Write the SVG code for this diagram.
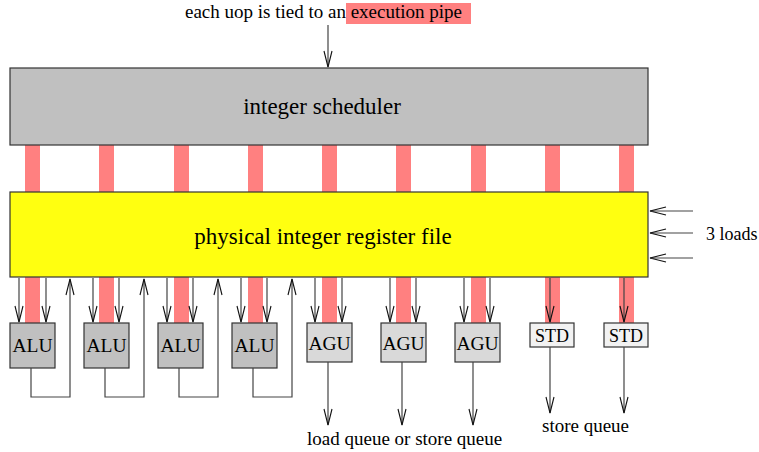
<svg xmlns="http://www.w3.org/2000/svg" width="759" height="452" viewBox="0 0 759 452">
<style>
.t{font-family:"Liberation Serif","Times New Roman",serif;fill:#000}
.pipe{fill:#ff8080}
.box{stroke:#333;stroke-width:1.2}
.c{fill:none;stroke:#444;stroke-width:1.2}
</style>
<defs>
<marker id="a" markerUnits="userSpaceOnUse" markerWidth="20" markerHeight="12" refX="0" refY="0" viewBox="-17 -6 18 12" orient="auto" overflow="visible">
<path d="M-16,-4 L0,0 L-16,4" fill="none" stroke="#111" stroke-width="1.1"/>
</marker>
</defs>
<rect width="759" height="452" fill="#fff"/>
<g id="title">
<rect x="346" y="3" width="125" height="21" fill="#ff8080"/>
<text class="t" x="185" y="18" font-size="19">each uop is tied to an execution pipe</text>
</g>
<g id="pipes">
<rect class="pipe" x="25" y="145" width="15" height="178"/>
<rect class="pipe" x="99" y="145" width="15" height="178"/>
<rect class="pipe" x="174" y="145" width="15" height="178"/>
<rect class="pipe" x="248" y="145" width="15" height="178"/>
<rect class="pipe" x="322" y="145" width="15" height="178"/>
<rect class="pipe" x="396" y="145" width="15" height="178"/>
<rect class="pipe" x="471" y="145" width="15" height="178"/>
<rect class="pipe" x="545" y="145" width="15" height="178"/>
<rect class="pipe" x="619" y="145" width="15" height="178"/>
</g>
<g id="scheduler">
<rect class="box" x="10" y="68" width="638" height="77" fill="#c0c0c0"/>
<text class="t" x="322" y="114" font-size="23" text-anchor="middle">integer scheduler</text>
</g>
<g id="regfile">
<rect class="box" x="10" y="192" width="638" height="85" fill="#ffff10"/>
<text class="t" x="323" y="244" font-size="23" text-anchor="middle">physical integer register file</text>
</g>
<g id="alu1"><rect class="box" x="10" y="323" width="45" height="45" fill="#c0c0c0"/><text class="t" x="32.5" y="352" font-size="19.5" text-anchor="middle">ALU</text></g>
<g id="alu2"><rect class="box" x="84" y="323" width="45" height="45" fill="#c0c0c0"/><text class="t" x="106.5" y="352" font-size="19.5" text-anchor="middle">ALU</text></g>
<g id="alu3"><rect class="box" x="158" y="323" width="45" height="45" fill="#c0c0c0"/><text class="t" x="180.5" y="352" font-size="19.5" text-anchor="middle">ALU</text></g>
<g id="alu4"><rect class="box" x="232" y="323" width="45" height="45" fill="#c0c0c0"/><text class="t" x="254.5" y="352" font-size="19.5" text-anchor="middle">ALU</text></g>
<g id="agu1"><rect class="box" x="307" y="323" width="45" height="39" fill="#d9d9d9"/><text class="t" x="329.5" y="350" font-size="19.5" text-anchor="middle">AGU</text></g>
<g id="agu2"><rect class="box" x="381" y="323" width="45" height="39" fill="#d9d9d9"/><text class="t" x="403.5" y="350" font-size="19.5" text-anchor="middle">AGU</text></g>
<g id="agu3"><rect class="box" x="455" y="323" width="45" height="39" fill="#d9d9d9"/><text class="t" x="477.5" y="350" font-size="19.5" text-anchor="middle">AGU</text></g>
<g id="std1"><rect class="box" x="530" y="323" width="44" height="24" fill="#f2f2f2"/><text class="t" x="552" y="342" font-size="18" text-anchor="middle">STD</text></g>
<g id="std2"><rect class="box" x="604" y="323" width="44" height="24" fill="#f2f2f2"/><text class="t" x="626" y="342" font-size="18" text-anchor="middle">STD</text></g>
<g id="connectors">
<path class="c" d="M328,25 V67" marker-end="url(#a)"/>
<path class="c" d="M693,211 H650" marker-end="url(#a)"/>
<path class="c" d="M693,233 H650" marker-end="url(#a)"/>
<path class="c" d="M693,258 H650" marker-end="url(#a)"/>
<path class="c" d="M19,278 V322" marker-end="url(#a)"/>
<path class="c" d="M46,278 V322" marker-end="url(#a)"/>
<path class="c" d="M93,278 V322" marker-end="url(#a)"/>
<path class="c" d="M119,278 V322" marker-end="url(#a)"/>
<path class="c" d="M167,278 V322" marker-end="url(#a)"/>
<path class="c" d="M193,278 V322" marker-end="url(#a)"/>
<path class="c" d="M241,278 V322" marker-end="url(#a)"/>
<path class="c" d="M267,278 V322" marker-end="url(#a)"/>
<path class="c" d="M315,278 V322" marker-end="url(#a)"/>
<path class="c" d="M342,278 V322" marker-end="url(#a)"/>
<path class="c" d="M390,278 V322" marker-end="url(#a)"/>
<path class="c" d="M416,278 V322" marker-end="url(#a)"/>
<path class="c" d="M464,278 V322" marker-end="url(#a)"/>
<path class="c" d="M490,278 V322" marker-end="url(#a)"/>
<path class="c" d="M550,278 V322" marker-end="url(#a)"/>
<path class="c" d="M624,278 V322" marker-end="url(#a)"/>
<path class="c" d="M31,368 V397 H70 V279" marker-end="url(#a)"/>
<path class="c" d="M105,368 V397 H144 V279" marker-end="url(#a)"/>
<path class="c" d="M179,368 V397 H218 V279" marker-end="url(#a)"/>
<path class="c" d="M253,368 V397 H292 V279" marker-end="url(#a)"/>
<path class="c" d="M328,362 V425" marker-end="url(#a)"/>
<path class="c" d="M402,362 V425" marker-end="url(#a)"/>
<path class="c" d="M473,362 V425" marker-end="url(#a)"/>
<path class="c" d="M550,347 V413" marker-end="url(#a)"/>
<path class="c" d="M624,347 V413" marker-end="url(#a)"/>
</g>
<g id="labels">
<text class="t" x="706" y="240" font-size="18">3 loads</text>
<text class="t" x="307" y="445" font-size="19">load queue or store queue</text>
<text class="t" x="542" y="432" font-size="19">store queue</text>
</g>
</svg>
